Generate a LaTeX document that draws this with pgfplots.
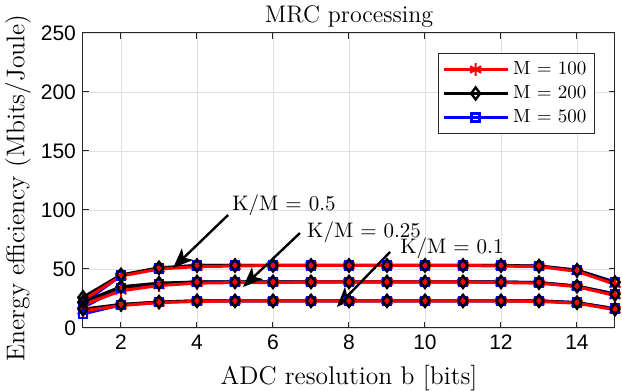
\documentclass[border=0pt]{standalone}
\usepackage{pgfplots}
\pgfplotsset{compat=1.18}
\usepackage{pgfplotstable}
\usepackage{fontspec}
\newfontfamily\arial{Liberation Sans}
\usetikzlibrary{arrows.meta}

\pgfplotstableread{
b top mid low
1 23.5 19.5 14.5
2 44 31.5 19
3 50 36 21.5
4 52 38 22.5
5 52.5 38.5 23
6 53 38.5 23
7 53 39 23
8 53 39 23
9 53 39 23
10 53 39 23
11 53 39 23
12 52.5 38.5 23
13 52 38 22.5
14 48 35 21
15 37 27.5 15.5
}\tabred

\pgfplotstableread{
b top mid low
1 26 22 16
2 45 35 20
3 51 38 22
4 53 39 23
5 53 39 23
6 53 39 23
7 53 39 23
8 53 39 23
9 53 39 23
10 53 39 23
11 53 39 23
12 53 39 23
13 52.5 38.5 23
14 49 35.5 21.5
15 38.5 28.5 16
}\tabblk

\pgfplotstableread{
b top mid low
1 21 17.5 12
2 44.5 34 19.5
3 50.5 37.5 22
4 53 39 23
5 53 39 23
6 53 39 23
7 53 39 23
8 53 39 23
9 53 39 23
10 53 39 23
11 53 39 23
12 53 39 23
13 52.5 38.5 23
14 49 35.5 21.5
15 39 29 16.5
}\tabblu

\begin{document}
\begin{tikzpicture}
\begin{axis}[
  at={(0,0)}, anchor=south west,
  scale only axis, width=266pt, height=147.5pt,
  xmin=1, xmax=15, ymin=0, ymax=250,
  xtick={2,4,...,14}, ytick={0,50,...,250},
  grid=major, grid style={black!12, line width=0.4pt},
  axis line style={black!85, line width=0.5pt},
  tick align=inside, tick style={black!85, line width=0.5pt}, major tick length=3pt,
  ticklabel style={font=\arial\fontsize{10.5}{12}\selectfont},
  /pgf/number format/assume math mode=true,
  xlabel={ADC resolution b [bits]},
  ylabel={Energy efficiency (Mbits/Joule)},
  title={MRC processing},
  label style={font=\fontsize{12.8}{15}\selectfont},
  xlabel style={at={(axis description cs:0.5,0)}, anchor=center, yshift=-25pt},
  ylabel style={at={(axis description cs:-0.122,0.475)}, anchor=center},
  title style={font=\fontsize{12}{14}\selectfont, at={(axis description cs:0.5,1)}, anchor=center, yshift=2.25pt},
  clip=false,
  legend style={at={(axis description cs:1,1)}, anchor=north east, xshift=-10pt, yshift=-10pt,
    font=\fontsize{9.5}{11}\selectfont, draw=black!85, line width=0.5pt, inner sep=2pt, row sep=0pt},
  legend cell align=left,
  legend image code/.code={\draw[mark repeat=2, mark phase=2, #1] plot coordinates {(0pt,0pt) (16pt,0pt) (32pt,0pt)};},
]
% lines
\addplot[blue, line width=1.5pt, forget plot] table[x=b,y=top]{\tabblu};
\addplot[blue, line width=1.5pt, forget plot] table[x=b,y=mid]{\tabblu};
\addplot[blue, line width=1.5pt, forget plot] table[x=b,y=low]{\tabblu};
\addplot[black, line width=1.5pt, forget plot] table[x=b,y=top]{\tabblk};
\addplot[black, line width=1.5pt, forget plot] table[x=b,y=mid]{\tabblk};
\addplot[black, line width=1.5pt, forget plot] table[x=b,y=low]{\tabblk};
\addplot[red, line width=1.5pt, forget plot] table[x=b,y=top]{\tabred};
\addplot[red, line width=1.5pt, forget plot] table[x=b,y=mid]{\tabred};
\addplot[red, line width=1.5pt, forget plot] table[x=b,y=low]{\tabred};
% markers
\addplot[only marks, red, mark=asterisk, mark size=3.2pt, mark options={line width=1.1pt}, forget plot] table[x=b,y=top]{\tabred};
\addplot[only marks, red, mark=asterisk, mark size=3.2pt, mark options={line width=1.1pt}, forget plot] table[x=b,y=mid]{\tabred};
\addplot[only marks, red, mark=asterisk, mark size=3.2pt, mark options={line width=1.1pt}, forget plot] table[x=b,y=low]{\tabred};
\addplot[only marks, blue, mark=square, mark size=2pt, mark options={line width=1.2pt}, forget plot] table[x=b,y=top]{\tabblu};
\addplot[only marks, blue, mark=square, mark size=2pt, mark options={line width=1.2pt}, forget plot] table[x=b,y=mid]{\tabblu};
\addplot[only marks, blue, mark=square, mark size=2pt, mark options={line width=1.2pt}, forget plot] table[x=b,y=low]{\tabblu};
\addplot[only marks, black, mark=diamond, mark size=3pt, mark options={line width=1.2pt}, forget plot] table[x=b,y=top]{\tabblk};
\addplot[only marks, black, mark=diamond, mark size=3pt, mark options={line width=1.2pt}, forget plot] table[x=b,y=mid]{\tabblk};
\addplot[only marks, black, mark=diamond, mark size=3pt, mark options={line width=1.2pt}, forget plot] table[x=b,y=low]{\tabblk};
% legend
\addlegendimage{red, line width=1.5pt, mark=asterisk, mark size=3.2pt, mark options={line width=1.1pt}}
\addlegendentry{M = 100}
\addlegendimage{black, line width=1.5pt, mark=diamond, mark size=3pt, mark options={line width=1.2pt}}
\addlegendentry{M = 200}
\addlegendimage{blue, line width=1.5pt, mark=square, mark size=2pt, mark options={line width=1.2pt}}
\addlegendentry{M = 500}
% annotations
\draw[black, line width=1.2pt, -{Stealth[length=10pt, width=8pt, inset=2.5pt]}] (axis cs:4.82,95.8) -- (axis cs:3.37,50.8);
\draw[black, line width=1.2pt, -{Stealth[length=10pt, width=8pt, inset=2.5pt]}] (axis cs:6.71,80.5) -- (axis cs:5.21,34.7);
\draw[black, line width=1.2pt, -{Stealth[length=10pt, width=8pt, inset=2.5pt]}] (axis cs:9.08,64.4) -- (axis cs:7.68,17.8);
\node[anchor=west, inner sep=0pt, font=\fontsize{10.5}{12}\selectfont] at (axis cs:4.92,104) {K/M = 0.5};
\node[anchor=west, inner sep=0pt, font=\fontsize{10.5}{12}\selectfont] at (axis cs:6.89,81) {K/M = 0.25};
\node[anchor=west, inner sep=0pt, font=\fontsize{10.5}{12}\selectfont] at (axis cs:9.34,68) {K/M = 0.1};
\end{axis}
\pgfresetboundingbox
\path[use as bounding box] (-41.5pt,-31.5pt) rectangle (269.5pt,164pt);
\end{tikzpicture}
\end{document}
